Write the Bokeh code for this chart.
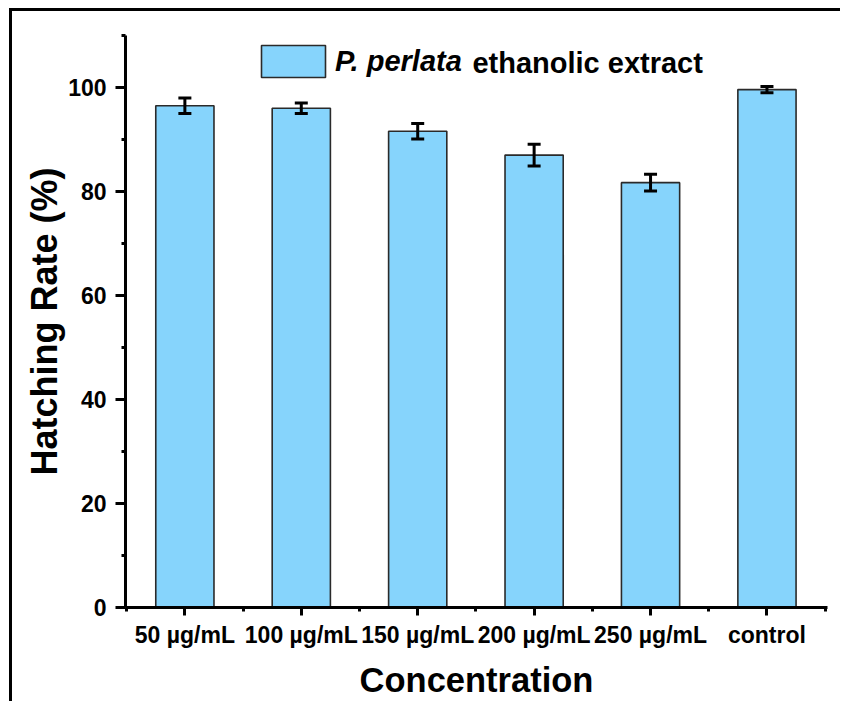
from bokeh.plotting import figure
from bokeh.models import (ColumnDataSource, Whisker, TeeHead, FixedTicker, Legend,
                          LegendItem, Label, Range1d)
from bokeh.embed import file_html
from bokeh.resources import INLINE

# ---- data ----
categories = ["50 µg/mL", "100 µg/mL", "150 µg/mL", "200 µg/mL", "250 µg/mL", "control"]
hatching_rate = [96.5, 96.0, 91.6, 87.0, 81.7, 99.6]
error = [1.5, 1.0, 1.5, 2.1, 1.6, 0.6]
y_ticks = [0, 20, 40, 60, 80, 100]
y_minor_ticks = [10, 30, 50, 70, 90, 110]
series_italic = "P. perlata"
series_rest = "ethanolic extract"
x_title = "Concentration"
y_title = "Hatching Rate (%)"

FONT = "Liberation Sans"
BAR_COLOR = "#86D4FC"

xs = list(range(1, len(categories) + 1))
src = ColumnDataSource(dict(
    x=xs,
    top=hatching_rate,
    upper=[v + e for v, e in zip(hatching_rate, error)],
    lower=[v - e for v, e in zip(hatching_rate, error)],
))

p = figure(width=840, height=701, output_backend="svg", toolbar_location=None,
           x_range=Range1d(0.49, 6.52), y_range=Range1d(0, 110),
           min_border_left=125, min_border_top=35, min_border_right=13,
           min_border_bottom=93)
# outer picture frame: only its left and top edges are visible
p.styles = {"box-shadow": "inset 9px 8px 0 0 white, inset 12px 11px 0 0 black"}
p.outline_line_color = None
p.xgrid.visible = False
p.ygrid.visible = False
p.background_fill_color = "white"
p.border_fill_color = None

bars = p.vbar(x="x", top="top", width=0.5, source=src, fill_color=BAR_COLOR,
              line_color="#2a2a2a", line_width=1.6)

whisk = Whisker(source=src, base="x", upper="upper", lower="lower",
                line_width=3, line_color="black", level="overlay",
                upper_head=TeeHead(size=13, line_width=3, line_color="black"),
                lower_head=TeeHead(size=13, line_width=3, line_color="black"))
p.add_layout(whisk)

# axes
for ax in (p.xaxis[0], p.yaxis[0]):
    ax.axis_line_width = 3
    ax.axis_line_color = "black"
    ax.major_tick_line_width = 3
    ax.minor_tick_line_width = 3
    ax.major_tick_in = 0
    ax.minor_tick_in = 0
    ax.minor_tick_out = 4
    ax.major_label_text_font = FONT
    ax.major_label_text_font_style = "bold"
    ax.major_label_text_font_size = "23px"
    ax.major_label_text_color = "black"
    ax.axis_label_text_font = FONT
    ax.axis_label_text_font_style = "bold"
    ax.axis_label_text_color = "black"

p.yaxis.ticker = FixedTicker(ticks=y_ticks, minor_ticks=y_minor_ticks)
p.yaxis.major_tick_out = 10
p.yaxis.major_label_standoff = 9
p.yaxis.axis_label = y_title
p.yaxis.axis_label_text_font_size = "36px"
p.yaxis.axis_label_standoff = 0

p.xaxis.ticker = FixedTicker(ticks=xs, minor_ticks=[x - 0.5 for x in xs] + [xs[-1] + 0.5])
p.xaxis.major_label_overrides = {x: c for x, c in zip(xs, categories)}
p.xaxis.major_tick_out = 8
p.xaxis.major_label_standoff = 6
p.xaxis.axis_label = x_title
p.xaxis.axis_label_text_font_size = "34.5px"
p.xaxis.axis_label_standoff = 10

# legend: the area glyph is drawn at 80% of the glyph box
legend = Legend(items=[LegendItem(label=series_italic, renderers=[bars])],
                location=(128, 526), glyph_width=80, glyph_height=40,
                label_height=40, label_standoff=2, label_text_font=FONT,
                label_text_font_style="bold italic", label_text_font_size="29px",
                label_text_color="black",
                padding=0, margin=0, border_line_color=None,
                background_fill_alpha=0)
p.add_layout(legend)

p.add_layout(Label(x=3.47, y=104.8, text=series_rest,
                   text_font=FONT, text_font_style="bold", text_font_size="29px",
                   text_baseline="middle", text_color="black"))

open("out.html", "w").write(file_html(p, INLINE))
